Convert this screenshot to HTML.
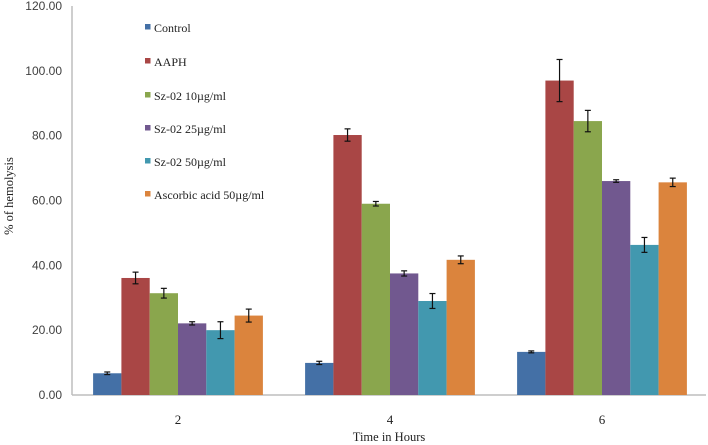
<!DOCTYPE html>
<html><head><meta charset="utf-8"><style>
html,body{margin:0;padding:0;background:#fff;}
svg{display:block;}
</style></head><body>
<svg id="chart" width="708" height="445">
<g id="axes"></g><g id="bars"></g><g id="legend"></g>
</svg>
<script>
const categories = ["2","4","6"];
const seriesNames = ["Control","AAPH","Sz-02 10µg/ml","Sz-02 25µg/ml","Sz-02 50µg/ml","Ascorbic acid 50µg/ml"];
const seriesColors = ["#4470a6","#a94645","#8aa64d","#71588f","#4298af","#db843d"];
const controlVals = [6.7, 9.9, 13.3];
const aaphVals = [36.1, 80.2, 97.0];
const sz10Vals = [31.4, 59.0, 84.5];
const sz25Vals = [22.1, 37.5, 66.0];
const sz50Vals = [20.0, 29.0, 46.3];
const ascVals = [24.5, 41.7, 65.6];
const controlErr = [0.4, 0.5, 0.3];
const aaphErr = [1.8, 1.9, 6.5];
const sz10Err = [1.5, 0.7, 3.3];
const sz25Err = [0.5, 0.8, 0.4];
const sz50Err = [2.6, 2.3, 2.3];
const ascErr = [2.0, 1.2, 1.3];
const yTicks = [0,20,40,60,80,100,120];

const allVals = [controlVals,aaphVals,sz10Vals,sz25Vals,sz50Vals,ascVals];
const allErr = [controlErr,aaphErr,sz10Err,sz25Err,sz50Err,ascErr];
const NS = "http://www.w3.org/2000/svg";
const x0 = 72, y0 = 395, yTop = 6, catW = 212, barW = 28.3;
const yMax = 120;
function y(v){ return y0 - v/yMax*(y0-yTop); }
function xCat(i){ return x0 + catW*(i+0.5); }
function mk(tag, attrs, parent, text){
  const e = document.createElementNS(NS, tag);
  for (const k in attrs) e.setAttribute(k, attrs[k]);
  if (text !== undefined) e.textContent = text;
  parent.appendChild(e); return e;
}
const axes = document.getElementById('axes');
const bars = document.getElementById('bars');
const legend = document.getElementById('legend');

const yAxis = mk('line',{x1:x0,y1:yTop,x2:x0,y2:y0,stroke:'#bdbdbd','stroke-width':1.5},axes);


const xAxis = mk('line',{x1:x0,y1:y0,x2:706,y2:y0,stroke:'#bdbdbd','stroke-width':1.5},axes);


yTicks.forEach(t=>{
  const l = mk('text',{x:62,y:y(t)+4,'text-anchor':'end','font-family':'Liberation Sans, sans-serif','font-size':12,fill:'#404040'},axes,t.toFixed(2));
  
  
});
categories.forEach((c,i)=>{
  const l = mk('text',{x:xCat(i),y:424,'text-anchor':'middle','font-family':'Liberation Serif, serif','font-size':13,fill:'#222'},axes,c);
  
  
});
const yt = mk('text',{x:0,y:0,transform:'translate(13,196) rotate(-90)','text-anchor':'middle','font-family':'Liberation Serif, serif','font-size':12.5,fill:'#222'},axes,'% of hemolysis');


const xt = mk('text',{x:389,y:441,'text-anchor':'middle','font-family':'Liberation Serif, serif','font-size':12.5,fill:'#222'},axes,'Time in Hours');



allVals.forEach((vals,s)=>{
  vals.forEach((v,i)=>{
    const bx = xCat(i) - 3*barW + s*barW;
    const r = mk('rect',{x:bx,y:y(v),width:barW,height:y0-y(v),fill:seriesColors[s]},bars);
    
    
    const e = allErr[s][i], cx = bx+barW/2;
    const g = mk('g',{stroke:'#111','stroke-width':1.2},bars);
    
    
    mk('line',{x1:cx,x2:cx,y1:y(v+e),y2:y(v-e)},g);
    mk('line',{x1:cx-3,x2:cx+3,y1:y(v+e),y2:y(v+e)},g);
    mk('line',{x1:cx-3,x2:cx+3,y1:y(v-e),y2:y(v-e)},g);
  });
});
const legY = [28,62,96,129,162,195];
seriesNames.forEach((n,s)=>{
  const g = mk('g',{},legend);
  
  
  mk('rect',{x:145,y:legY[s]-4,width:5.5,height:5.5,fill:seriesColors[s]},g);
  mk('text',{x:154,y:legY[s]+4,'font-family':'Liberation Serif, serif','font-size':12,fill:'#222'},g,n);
});
</script>
</body></html>
